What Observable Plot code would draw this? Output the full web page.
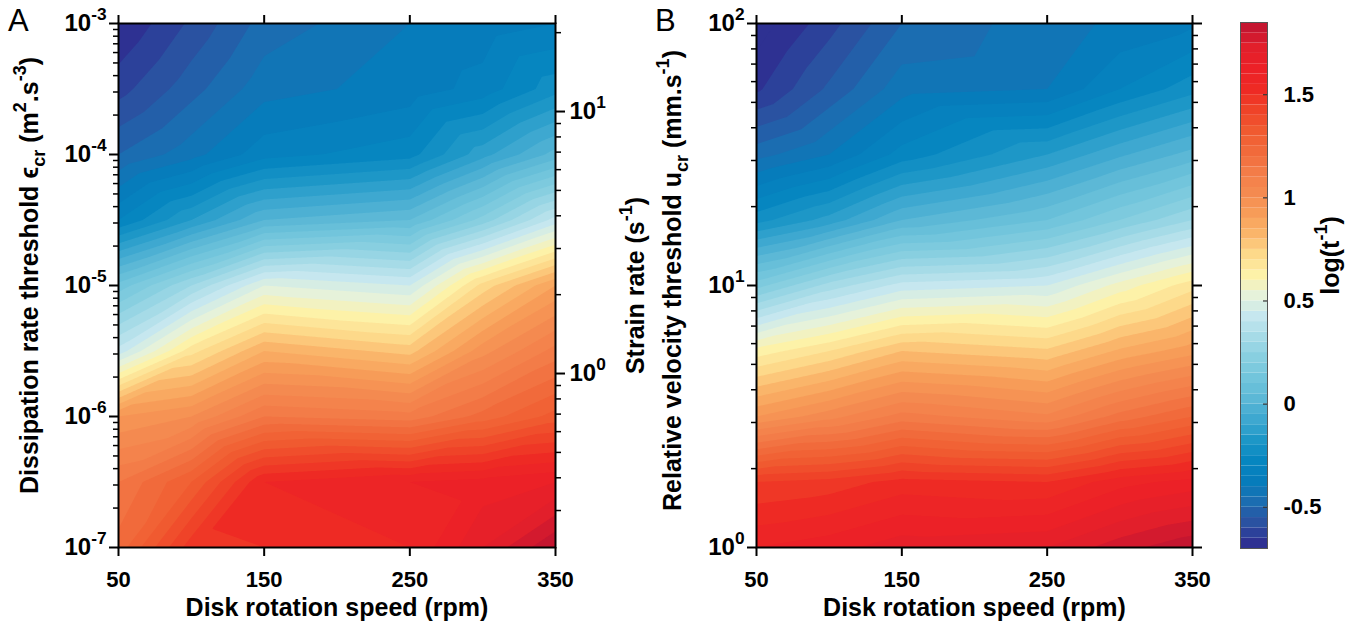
<!DOCTYPE html>
<html><head><meta charset="utf-8">
<script src="https://cdn.jsdelivr.net/npm/d3@7"></script>
<script src="https://cdn.jsdelivr.net/npm/@observablehq/plot@0.6"></script>
<style>
body{margin:0;background:#fff;}
#wrap{position:relative;width:1352px;height:625px;overflow:hidden;font-family:"Liberation Sans",Arial,sans-serif;}
#wrap svg{position:absolute;top:0;}
.letter{position:absolute;font-size:31px;line-height:31px;font-family:"Liberation Sans",Arial,sans-serif;color:#000;}
</style></head>
<body><div id="wrap"></div>
<script>
// ---------- data ----------
const rpm = [50, 100, 150, 250, 300, 350];
const rpmTicks = [50, 150, 250, 350];
// Panel A rows: log10(dissipation rate threshold, m2/s3)
const logEps = [-3, -3.5, -4, -4.5, -5, -5.5, -6, -6.5, -7];
// log(t^-1) down each rpm column (top -> bottom)
const A50  = [-0.70, -0.62, -0.50, -0.30, 0.12, 0.42, 0.95, 1.15, 1.22];
const A100 = [-0.59, -0.52, -0.42, -0.15, 0.30, 0.68, 1.00, 1.30, 1.48];
const A150 = [-0.48, -0.42, -0.32,  0.00, 0.50, 0.85, 1.15, 1.55, 1.50];
const A250 = [-0.40, -0.38, -0.27,  0.05, 0.45, 0.78, 1.12, 1.60, 1.55];
const A300 = [-0.38, -0.33, -0.12,  0.22, 0.72, 0.98, 1.22, 1.62, 1.70];
const A350 = [-0.35, -0.22,  0.02,  0.42, 0.90, 1.12, 1.32, 1.65, 1.85];
// Panel B rows: log10(relative velocity threshold, mm/s)
const logU = [2, 1.75, 1.5, 1.25, 1, 0.75, 0.5, 0.25, 0];
const B50  = [-0.73, -0.66, -0.47, -0.22, 0.18, 0.62, 0.95, 1.45, 1.60];
const B100 = [-0.62, -0.54, -0.40, -0.13, 0.32, 0.70, 1.03, 1.47, 1.63];
const B150 = [-0.50, -0.42, -0.28,  0.00, 0.42, 0.80, 1.12, 1.52, 1.68];
const B250 = [-0.42, -0.40, -0.15,  0.10, 0.45, 0.76, 1.06, 1.50, 1.70];
const B300 = [-0.39, -0.30, -0.06,  0.20, 0.57, 0.86, 1.17, 1.58, 1.78];
const B350 = [-0.36, -0.22,  0.02,  0.30, 0.68, 0.93, 1.25, 1.62, 1.84];

const epsMajor = [-7, -6, -5, -4, -3];
const uMajor = [0, 1, 2];
const strainMajor = [1, 10];
const strainMinor = [0.3, 0.4, 0.5, 0.6, 0.7, 0.8, 0.9, 2, 3, 4, 5, 6, 7, 8, 9, 20];
const LOG_EPS_AT_STRAIN_1 = -5.672; // eps where strain rate = 1 s^-1
const cbTicks = [-0.5, 0, 0.5, 1, 1.5];
const cbDomain = [-0.7, 1.85];
const step = 0.05;
const thresholds = d3.range(-15, 38).map(i => +(i * step).toFixed(2));
// colour bar samples every 0.1 from -0.7 to 1.9
const cbColors = ["#2e3192","#2a52a1","#1b6db1","#067cbb","#0686c0","#1d97c7","#3ea8d0","#5cb8d6",
  "#72c5dc","#88cfe0","#a6dbe7","#c6e7ef","#e6f2da","#fdf2a8","#fdd98a","#fab56a","#f79c58",
  "#f48a50","#f37c48","#f16a3b","#f05a30","#ef4328","#ee2a24","#ec2127","#e21f2b","#c51630","#b0102d"];

const labelA = "Dissipation rate threshold ϵ_{cr} (m^{2}.s^{-3})";
const labelStrain = "Strain rate (s^{-1})";
const labelB = "Relative velocity threshold u_{cr} (mm.s^{-1})";
const labelX = "Disk rotation speed (rpm)";
const labelCb = "log(t^{-1})";

// ---------- helpers ----------
function grid(rows, cols) {
  const out = [];
  cols.forEach((col, j) => col.forEach((z, i) => out.push({rpm: rpm[j], y: rows[i], z})));
  return out;
}
const gridA = grid(logEps, [A50, A100, A150, A250, A300, A350]);
const gridB = grid(logU, [B50, B100, B150, B250, B300, B350]);
const minorLog = (lo, hi) => {
  const r = [];
  for (let n = lo; n < hi; n++) for (let k = 2; k <= 9; k++) r.push(n + Math.log10(k));
  return r;
};
const strainToL = s => 2 * Math.log10(s) + LOG_EPS_AT_STRAIN_1;

const color = {type: "linear", domain: [-0.7, 1.9], interpolate: d3.piecewise(d3.interpolateRgb, cbColors), clamp: true};
const font = "Liberation Sans, Arial, sans-serif";
const baseStyle = {background: "transparent", fontFamily: font, fontSize: "22px", fontWeight: "bold", color: "black", overflow: "visible"};
const TITLE = 25;
const YTICK = 24;
const sup = d => `10^{${d}}`;
const title = (txt, o) => Plot.text([txt], {text: d => d, fontSize: TITLE, fontWeight: "bold", textAnchor: "middle", lineAnchor: "middle", ...o});

function panel({data, ydom, majors, minors, rightMajors, rightMinors, rightFormat, ylabel, ylabelDx, ylabelDy, extra, ml, mr, width}) {
  return Plot.plot({
    width, height: 625, marginLeft: ml, marginRight: mr, marginTop: 23, marginBottom: 78,
    x: {domain: [50, 350]}, y: {domain: ydom}, color, style: baseStyle,
    marks: [
      Plot.contour(data, {x: "rpm", y: "y", fill: "z", thresholds, interpolate: "barycentric", pixelSize: 1, clip: true}),
      Plot.frame({stroke: "black", strokeWidth: 2}),
      Plot.axisX({anchor: "bottom", ticks: rpmTicks, tickSize: 9, tickPadding: 15, strokeWidth: 2, label: null, tickFormat: d => String(d)}),
      Plot.axisX({anchor: "top", ticks: rpmTicks, tickSize: 9, strokeWidth: 2, label: null, tickFormat: () => ""}),
      Plot.axisY({anchor: "left", ticks: majors, tickSize: 9, tickPadding: 3, strokeWidth: 2, label: null, fontSize: YTICK, tickFormat: sup}),
      Plot.axisY({anchor: "left", ticks: minors, tickSize: 5, strokeWidth: 1.5, label: null, tickFormat: () => ""}),
      Plot.axisY({anchor: "right", ticks: rightMajors, tickSize: 9, tickPadding: 5, strokeWidth: 2, label: null, fontSize: YTICK, tickFormat: rightFormat}),
      Plot.axisY({anchor: "right", ticks: rightMinors, tickSize: 5, strokeWidth: 1.5, label: null, tickFormat: () => ""}),
      title(ylabel, {frameAnchor: "left", dx: ylabelDx, dy: ylabelDy, rotate: -90}),
      title(labelX, {frameAnchor: "bottom", dy: 60}),
      ...(extra || [])
    ]
  });
}

const inA = v => v >= -7 && v <= -3;
const plotA = panel({
  data: gridA, ydom: [-7, -3], majors: epsMajor, minors: minorLog(-7, -3),
  rightMajors: strainMajor.map(strainToL), rightMinors: strainMinor.map(strainToL).filter(inA),
  rightFormat: d => sup(Math.round((d - LOG_EPS_AT_STRAIN_1) / 2)),
  ylabel: labelA, ylabelDx: -89, ylabelDy: -10, ml: 118, mr: 105, width: 660,
  extra: [title(labelStrain, {frameAnchor: "right", dx: 80, dy: 0, rotate: -90})]
});
const plotB = panel({
  data: gridB, ydom: [0, 2], majors: uMajor, minors: minorLog(0, 2),
  rightMajors: uMajor, rightMinors: minorLog(0, 2), rightFormat: () => "",
  ylabel: labelB, ylabelDx: -84, ylabelDy: -5, ml: 116, mr: 28, width: 580
});

const cbBands = thresholds.filter(t => t >= cbDomain[0] - 1e-9 && t < cbDomain[1] - 1e-9);
const plotCb = Plot.plot({
  width: 132, height: 625, marginLeft: 20, marginRight: 85, marginTop: 22, marginBottom: 77,
  x: {domain: [0, 1], axis: null}, y: {domain: cbDomain, axis: null}, color, style: baseStyle,
  marks: [
    Plot.rect(cbBands, {x1: 0, x2: 1, y1: d => d, y2: d => d + step, fill: d => d, clip: true}),
    Plot.frame({stroke: "#555", strokeWidth: 1}),
    Plot.tickY(cbTicks, {y: d => d, stroke: "#333", strokeWidth: 1.2, insetLeft: 23}),
    Plot.axisY({anchor: "right", ticks: cbTicks, tickSize: 0, tickPadding: 16, label: null, tickFormat: d => String(d)}),
    title(labelCb, {frameAnchor: "right", dx: 63, dy: -30, rotate: -90})
  ]
});

const wrap = document.getElementById("wrap");
plotA.style.left = "0px";
plotB.style.left = "640px";
plotCb.style.left = "1220px";
wrap.append(plotA, plotB, plotCb);
for (const [txt, x] of [["A", 8], ["B", 655]]) {
  const d = document.createElement("div");
  d.className = "letter"; d.textContent = txt; d.style.left = x + "px"; d.style.top = "5px";
  wrap.appendChild(d);
}

function richify(root) {
  root.querySelectorAll("text").forEach(t => {
    const s = t.textContent;
    if (!/[\^_]\{/.test(s) || t.querySelector("tspan")) return;
    const fs = parseFloat(getComputedStyle(t).fontSize) || 22;
    const parts = s.split(/([\^_]\{[^}]*\})/).filter(p => p.length);
    t.textContent = "";
    let prev = 0;
    for (const p of parts) {
      let shift = 0, size = null, txt = p;
      if (p.startsWith("^{")) { shift = -0.45 * fs; size = 0.72 * fs; txt = p.slice(2, -1); }
      else if (p.startsWith("_{")) { shift = 0.3 * fs; size = 0.72 * fs; txt = p.slice(2, -1); }
      const ts = document.createElementNS("http://www.w3.org/2000/svg", "tspan");
      if (shift !== prev) ts.setAttribute("dy", (shift - prev).toFixed(2));
      if (size) ts.setAttribute("font-size", size.toFixed(1));
      ts.textContent = txt;
      t.appendChild(ts);
      prev = shift;
    }
  });
}
richify(wrap);
</script>
</body></html>
